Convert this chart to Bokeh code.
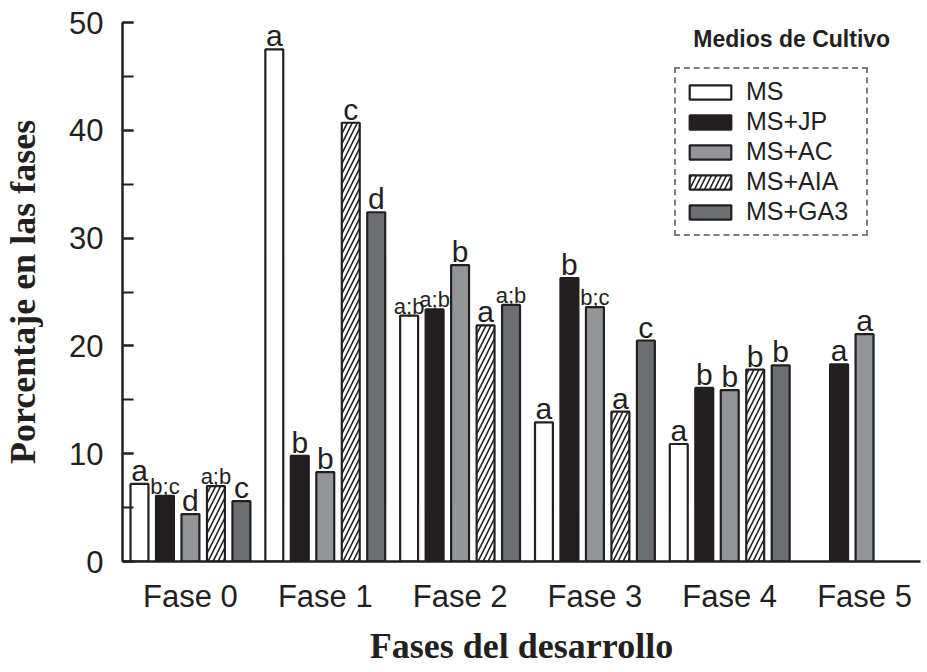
from bokeh.plotting import figure
from bokeh.models import (ColumnDataSource, Range1d, FixedTicker, SingleIntervalTicker,
                          Legend, LegendItem, Label)
from bokeh.core.properties import value, field
from bokeh.embed import file_html
from bokeh.resources import INLINE

# ---------------- data ----------------
phases = ["Fase 0", "Fase 1", "Fase 2", "Fase 3", "Fase 4", "Fase 5"]
media = ["MS", "MS+JP", "MS+AC", "MS+AIA", "MS+GA3"]

ms     = [7.2, 47.5, 22.8, 12.9, 10.9, None]
ms_jp  = [6.1, 9.8, 23.4, 26.3, 16.1, 18.3]
ms_ac  = [4.4, 8.3, 27.5, 23.6, 15.9, 21.1]
ms_aia = [7.0, 40.7, 21.9, 13.9, 17.8, None]
ms_ga3 = [5.6, 32.4, 23.8, 20.5, 18.2, None]

let_ms  = ["a", "a", "a;b", "a", "a", ""]
let_jp  = ["b;c", "b", "a;b", "b", "b", "a"]
let_ac  = ["d", "b", "b", "b;c", "b", "a"]
let_aia = ["a;b", "c", "a", "a", "b", ""]
let_ga3 = ["c", "d", "a;b", "c", "b", ""]

series = [ms, ms_jp, ms_ac, ms_aia, ms_ga3]
letters = [let_ms, let_jp, let_ac, let_aia, let_ga3]

# ---------------- styles ----------------
INK = "#231f20"
fills = ["white", INK, "#939598", "white", "#6d6e71"]
hatches = [None, None, None, "/", None]
offsets = [-2, -1, 0, 1, 2]
STEP = 0.189
BAR_W = 0.133

p = figure(width=923, height=668, output_backend="svg", toolbar_location=None,
           x_range=Range1d(-0.504, 5.415), y_range=Range1d(0, 50),
           min_border_left=121, min_border_top=22, min_border_right=3,
           min_border_bottom=103)
p.outline_line_color = None
p.xgrid.grid_line_color = None
p.ygrid.grid_line_color = None
p.background_fill_color = "white"
p.border_fill_color = "white"

items = []
for i, (vals, lets) in enumerate(zip(series, letters)):
    xs = [k + offsets[i] * STEP for k in range(len(phases))]
    tops = [float("nan") if v is None else v for v in vals]
    src = ColumnDataSource(dict(x=xs, top=tops))
    kw = {}
    if hatches[i]:
        kw = dict(hatch_pattern=hatches[i], hatch_color=INK, hatch_scale=10, hatch_weight=1.6)
    r = p.vbar(x="x", top="top", bottom=0, width=BAR_W, source=src,
               fill_color=fills[i], line_color=INK, line_width=2.2, **kw)
    items.append(LegendItem(label=media[i], renderers=[r]))

    lx, ly, lt, ls = [], [], [], []
    for k, (v, t) in enumerate(zip(vals, lets)):
        if v is None or not t:
            continue
        lx.append(xs[k]); ly.append(v); lt.append(t)
        ls.append("30px" if len(t) == 1 else "22px")
    tsrc = ColumnDataSource(dict(x=lx, y=ly, t=lt, s=ls))
    p.text(x="x", y="y", text="t", source=tsrc, text_align="center",
           text_baseline="bottom", y_offset=3, text_font=value("Liberation Sans"),
           text_font_size=field("s"), text_color=INK)

# axes
yax = p.yaxis[0]
yax.ticker = SingleIntervalTicker(interval=10, num_minor_ticks=2)
yax.axis_line_color = INK
yax.axis_line_width = 2.5
yax.major_tick_in = 11
yax.major_tick_out = 0
yax.minor_tick_in = 11
yax.minor_tick_out = 0
yax.major_tick_line_color = INK
yax.minor_tick_line_color = INK
yax.major_tick_line_width = 2
yax.minor_tick_line_width = 2
yax.major_label_text_font = "Liberation Sans"
yax.major_label_text_font_size = "31px"
yax.major_label_text_color = INK
yax.major_label_standoff = 19
yax.axis_label = "Porcentaje en las fases"
yax.axis_label_text_font = "Liberation Serif"
yax.axis_label_text_font_style = "bold"
yax.axis_label_text_font_size = "36px"
yax.axis_label_text_color = INK
yax.axis_label_standoff = 23

xax = p.xaxis[0]
xax.ticker = FixedTicker(ticks=list(range(len(phases))))
xax.major_label_overrides = {k: name for k, name in enumerate(phases)}
xax.axis_line_color = INK
xax.axis_line_width = 2.5
xax.major_tick_line_color = None
xax.minor_tick_line_color = None
xax.major_label_text_font = "Liberation Sans"
xax.major_label_text_font_size = "31px"
xax.major_label_text_color = INK
xax.major_label_standoff = 11
xax.axis_label = "Fases del desarrollo"
xax.axis_label_text_font = "Liberation Serif"
xax.axis_label_text_font_style = "bold"
xax.axis_label_text_font_size = "36px"
xax.axis_label_text_color = INK
xax.axis_label_standoff = 9

legend = Legend(items=items, location=(552, 325))
legend.border_line_color = "black"
legend.border_line_width = 2.5
legend.border_line_dash = "5 3"
legend.background_fill_color = "white"
legend.background_fill_alpha = 1
legend.padding = 8
legend.margin = 0
legend.spacing = 1
legend.glyph_width = 52
legend.glyph_height = 18
legend.label_height = 22
legend.label_width = 112
legend.label_standoff = 10
legend.label_text_font = "Liberation Sans"
legend.label_text_font_size = "25px"
legend.label_text_color = INK
p.add_layout(legend, "center")

title = Label(x=4.46, y=48.5, text="Medios de Cultivo", text_align="center",
              text_baseline="alphabetic", text_font="Liberation Sans",
              text_font_style="bold", text_font_size="23px", text_color=INK)
p.add_layout(title)

open("out.html", "w").write(file_html(p, INLINE))
